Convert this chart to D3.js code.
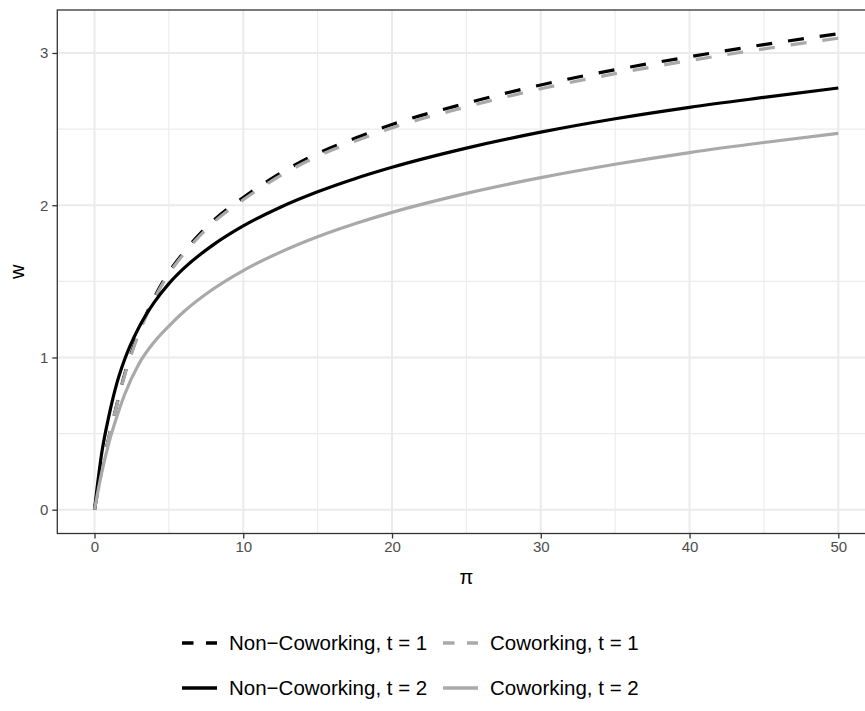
<!DOCTYPE html>
<html>
<head>
<meta charset="utf-8">
<script src="https://cdn.jsdelivr.net/npm/d3@7"></script>
<style>
  body { margin: 0; background: #fff; }
  svg text { font-family: "Liberation Sans", Arial, Helvetica, sans-serif; }
</style>
</head>
<body>
<svg id="chart" width="865" height="711"></svg>
<script>
// Wage w as a function of pi, for the four scenarios
const piValues       = [0, 0.5, 1, 1.5, 2, 3, 4, 5, 6, 8, 10, 12.5, 15, 17.5, 20, 25, 30, 35, 40, 45, 50];
const nonCoworkingT1 = [0, 0.27, 0.49, 0.69, 0.88, 1.17, 1.39, 1.56, 1.69, 1.90, 2.05, 2.21, 2.34, 2.44, 2.53, 2.67, 2.79, 2.89, 2.975, 3.055, 3.126];
const coworkingT1    = [0, 0.27, 0.488, 0.686, 0.874, 1.16, 1.38, 1.55, 1.68, 1.887, 2.036, 2.194, 2.322, 2.42, 2.508, 2.646, 2.765, 2.864, 2.95, 3.027, 3.097];
const nonCoworkingT2 = [0, 0.38, 0.63, 0.83, 0.98, 1.20, 1.36, 1.485, 1.585, 1.741, 1.864, 1.987, 2.088, 2.174, 2.249, 2.375, 2.48, 2.568, 2.643, 2.708, 2.77];
const coworkingT2    = [0, 0.25, 0.45, 0.61, 0.75, 0.96, 1.10, 1.206, 1.30, 1.451, 1.571, 1.692, 1.793, 1.878, 1.953, 2.078, 2.181, 2.269, 2.346, 2.412, 2.472];

const seriesLabels = ["Non\u2212Coworking, t = 1", "Coworking, t = 1", "Non\u2212Coworking, t = 2", "Coworking, t = 2"];
const seriesValues = [nonCoworkingT1, coworkingT1, nonCoworkingT2, coworkingT2];
const seriesColors = ["#000000", "#A9A9A9", "#000000", "#A9A9A9"];
const seriesDashed = [true, true, false, false];

const xTicks = [0, 10, 20, 30, 40, 50];
const xMinorTicks = [5, 15, 25, 35, 45];
const yTicks = [0, 1, 2, 3];
const yMinorTicks = [0.5, 1.5, 2.5];

const svg = d3.select("#chart");

// panel geometry (ggplot-style 5% expansion on both axes)
const panel = { left: 57.3, right: 875.5, top: 10, bottom: 533.5 };
const xMin = d3.min(piValues), xMax = d3.max(piValues);
const xPad = (xMax - xMin) * 0.05;
const allY = seriesValues.flat();
const yMin = d3.min(allY), yMax = d3.max(allY);
const yPad = (yMax - yMin) * 0.05;

const x = d3.scaleLinear().domain([xMin - xPad, xMax + xPad]).range([panel.left, panel.right]);
const y = d3.scaleLinear().domain([yMin - yPad, yMax + yPad]).range([panel.bottom, panel.top]);

const g = svg.append("g");

// grid
const grid = g.append("g");
grid.selectAll("line.xminor").data(xMinorTicks).join("line")
  .attr("x1", d => x(d)).attr("x2", d => x(d))
  .attr("y1", panel.top).attr("y2", panel.bottom)
  .attr("stroke", "#EBEBEB").attr("stroke-width", 1.1);
grid.selectAll("line.yminor").data(yMinorTicks).join("line")
  .attr("y1", d => y(d)).attr("y2", d => y(d))
  .attr("x1", panel.left).attr("x2", panel.right)
  .attr("stroke", "#EBEBEB").attr("stroke-width", 1.1);
grid.selectAll("line.xmajor").data(xTicks).join("line")
  .attr("x1", d => x(d)).attr("x2", d => x(d))
  .attr("y1", panel.top).attr("y2", panel.bottom)
  .attr("stroke", "#EBEBEB").attr("stroke-width", 2);
grid.selectAll("line.ymajor").data(yTicks).join("line")
  .attr("y1", d => y(d)).attr("y2", d => y(d))
  .attr("x1", panel.left).attr("x2", panel.right)
  .attr("stroke", "#EBEBEB").attr("stroke-width", 2);

// series
const line = d3.line()
  .x(d => x(d[0]))
  .y(d => y(d[1]))
  .curve(d3.curveMonotoneX);

const plotArea = g.append("g");
seriesValues.forEach((vals, i) => {
  const pts = piValues.map((p, j) => [p, vals[j]]);
  plotArea.append("path")
    .datum(pts)
    .attr("d", line)
    .attr("fill", "none")
    .attr("stroke", seriesColors[i])
    .attr("stroke-width", 3.2)
    .attr("stroke-linejoin", "round")
    .attr("stroke-dasharray", seriesDashed[i] ? "16,16" : null);
});

// panel border
g.append("rect")
  .attr("x", panel.left).attr("y", panel.top)
  .attr("width", panel.right - panel.left).attr("height", panel.bottom - panel.top)
  .attr("fill", "none").attr("stroke", "#333333").attr("stroke-width", 1.3);

// axes
const xAxis = d3.axisBottom(x).tickValues(xTicks).tickFormat(d3.format("d")).tickSize(5).tickPadding(3);
const yAxis = d3.axisLeft(y).tickValues(yTicks).tickFormat(d3.format("d")).tickSize(5).tickPadding(4);

const gx = svg.append("g").attr("transform", `translate(0,${panel.bottom})`).call(xAxis);
const gy = svg.append("g").attr("transform", `translate(${panel.left},0)`).call(yAxis);
[gx, gy].forEach(a => {
  a.select(".domain").remove();
  a.selectAll(".tick line").attr("stroke", "#333333").attr("stroke-width", 1.3);
  a.selectAll(".tick text")
    .attr("fill", "#4D4D4D")
    .style("font-size", "15px")
    .style("font-family", "'Liberation Sans', Arial, sans-serif");
});

// axis titles
svg.append("text")
  .attr("x", (panel.left + panel.right) / 2)
  .attr("y", 584)
  .attr("text-anchor", "middle")
  .style("font-size", "20px")
  .attr("fill", "#000")
  .text("\u03C0");

svg.append("text")
  .attr("transform", `translate(24,${(panel.top + panel.bottom) / 2}) rotate(-90)`)
  .attr("text-anchor", "middle")
  .style("font-size", "20px")
  .attr("fill", "#000")
  .text("w");

// legend: two rows by two columns
const legendCols = [182, 443];
const legendRows = [643, 688];
const legend = svg.append("g");
seriesLabels.forEach((lab, i) => {
  const cx = legendCols[i % 2];
  const cy = legendRows[Math.floor(i / 2)];
  legend.append("line")
    .attr("x1", cx).attr("x2", cx + 35)
    .attr("y1", cy).attr("y2", cy)
    .attr("stroke", seriesColors[i])
    .attr("stroke-width", 3.3)
    .attr("stroke-dasharray", seriesDashed[i] ? "11.5,12.5" : null);
  legend.append("text")
    .attr("x", cx + 47)
    .attr("y", cy)
    .attr("dy", "0.35em")
    .style("font-size", "20.5px")
    .attr("fill", "#000")
    .text(lab);
});
</script>
</body>
</html>
